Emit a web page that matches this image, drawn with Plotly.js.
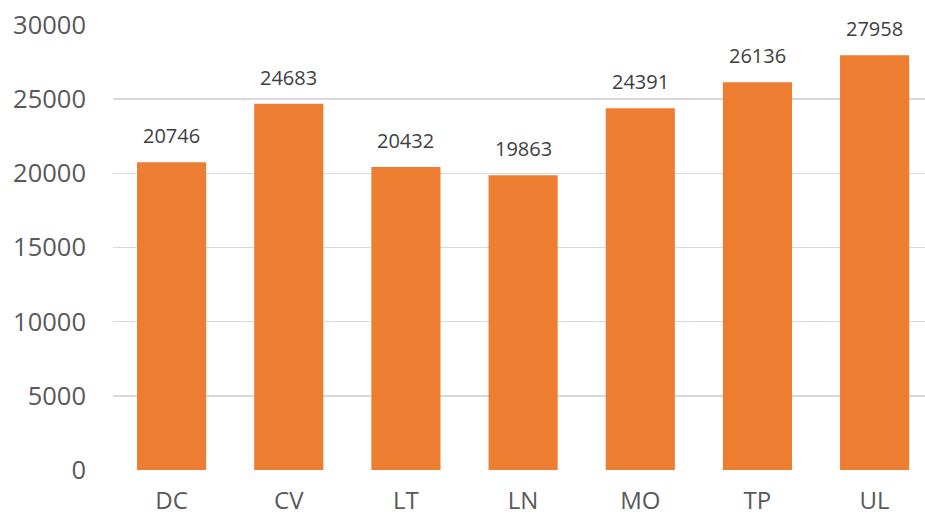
<!DOCTYPE html>
<html>
<head>
<meta charset="utf-8">
<script src="https://cdn.plot.ly/plotly-3.0.1.min.js"></script>
<style>html,body{margin:0;padding:0;background:#fff;}#chart{width:925px;height:520px;}</style>
</head>
<body>
<div id="chart"></div>
<script>
const categories = ["DC", "CV", "LT", "LN", "MO", "TP", "UL"];
const values = [20746, 24683, 20432, 19863, 24391, 26136, 27958];
const yTicks = [0, 5000, 10000, 15000, 20000, 25000, 30000];

const trace = {
  type: "bar",
  x: categories,
  y: values,
  marker: { color: "#ED7D31" },
  hoverinfo: "skip"
};

const annotations = categories.map((c, i) => ({
  x: c, y: values[i], xref: "x", yref: "y",
  text: String(values[i]), showarrow: false,
  yanchor: "bottom", yshift: 11,
  font: { family: "Open Sans, sans-serif", size: 20, color: "#404040" }
}));

const layout = {
  width: 925, height: 520,
  margin: { l: 113, r: 0, t: 25, b: 50 },
  paper_bgcolor: "#fff", plot_bgcolor: "#fff",
  bargap: 0.41,
  showlegend: false,
  xaxis: {
    type: "category",
    range: [-0.5, 6.43],
    showgrid: false, zeroline: false, showline: false, ticks: "",
    ticklabelstandoff: 14,
    tickfont: { family: "Open Sans, sans-serif", size: 24, color: "#595959" }
  },
  yaxis: {
    range: [0, 30000],
    tickvals: yTicks,
    ticktext: yTicks.map(String),
    showgrid: true, gridcolor: "#D9D9D9", gridwidth: 1.5,
    zeroline: false, showline: false, ticks: "",
    ticklabelstandoff: 26,
    tickfont: { family: "Open Sans, sans-serif", size: 25.5, color: "#595959" }
  },
  annotations: annotations
};

Plotly.newPlot("chart", [trace], layout, { displayModeBar: false, staticPlot: true });
</script>
</body>
</html>
